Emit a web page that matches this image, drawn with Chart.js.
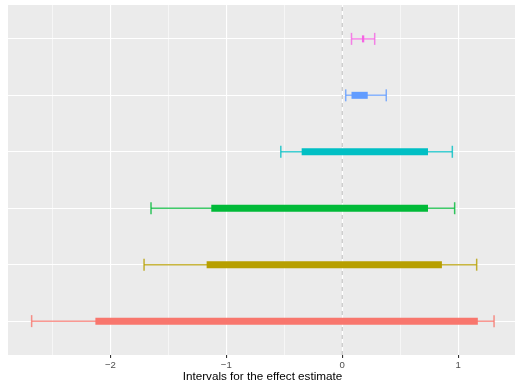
<!DOCTYPE html>
<html>
<head>
<meta charset="utf-8">
<script src="https://cdn.jsdelivr.net/npm/chart.js@4.4.1/dist/chart.umd.min.js"></script>
<style>
  html, body { margin: 0; padding: 0; background: #ffffff; overflow: hidden; }
  #wrap { width: 517px; height: 387px; }
</style>
</head>
<body>
<div id="wrap"><canvas id="c" width="517" height="387"></canvas></div>
<script>
// Rows from bottom (1) to top (6)
const rows = [1, 2, 3, 4, 5, 6];
const rowColors = ['#F8766D', '#B79F00', '#00BA38', '#00BFC4', '#619CFF', '#F564E3'];
// Outer interval (thin whisker with caps)
const outerLow  = [-2.68, -1.71, -1.65, -0.53, 0.03, 0.08];
const outerHigh = [ 1.31,  1.16,  0.97,  0.95, 0.38, 0.28];
// Inner interval (thick bar)
const innerLow  = [-2.13, -1.17, -1.13, -0.35, 0.08, 0.17];
const innerHigh = [ 1.17,  0.86,  0.74,  0.74, 0.22, 0.19];
// Axis
const xTickValues = [-2, -1, 0, 1];
const xTitle = 'Intervals for the effect estimate';
const refValue = 0;

function withAlpha(hex, a) {
  const n = parseInt(hex.slice(1), 16);
  return `rgba(${(n >> 16) & 255},${(n >> 8) & 255},${n & 255},${a})`;
}

const datasets = [];

// dashed reference line at zero
datasets.push({
  type: 'line',
  data: [{ x: refValue, y: 0.4 }, { x: refValue, y: 6.6 }],
  borderColor: '#BDBDBD',
  borderWidth: 1,
  borderDash: [4, 4],
  pointRadius: 0,
  order: 20
});

rows.forEach((r, i) => {
  // whisker with end caps
  datasets.push({
    type: 'line',
    data: [{ x: outerLow[i], y: r }, { x: outerHigh[i], y: r }],
    borderColor: withAlpha(rowColors[i], 0.75),
    borderWidth: 1.5,
    pointStyle: 'line',
    rotation: 90,
    pointRadius: 6,
    pointBorderWidth: 1.5,
    pointBorderColor: withAlpha(rowColors[i], 0.8),
    pointBackgroundColor: withAlpha(rowColors[i], 0.8),
    order: 10
  });
  // thick inner interval
  datasets.push({
    type: 'line',
    data: [{ x: innerLow[i], y: r }, { x: innerHigh[i], y: r }],
    borderColor: rowColors[i],
    borderWidth: 7,
    borderCapStyle: 'butt',
    pointRadius: 0,
    order: 1
  });
});

const panelBg = {
  id: 'panelBg',
  beforeDraw(chart) {
    const { ctx, chartArea: a } = chart;
    ctx.save();
    ctx.fillStyle = '#EBEBEB';
    ctx.fillRect(a.left, a.top, a.right - a.left, a.bottom - a.top);
    ctx.restore();
  }
};

new Chart(document.getElementById('c'), {
  type: 'line',
  data: { datasets },
  plugins: [panelBg],
  options: {
    responsive: false,
    animation: false,
    layout: { autoPadding: false, padding: { top: 5, left: 8, right: 0, bottom: 0 } },
    plugins: { legend: { display: false }, tooltip: { enabled: false } },
    scales: {
      x: {
        type: 'linear',
        min: -2.884,
        max: 1.508,
        afterFit(scale) { scale.height = 32; scale.paddingLeft = 0; scale.paddingRight = 0; },
        afterBuildTicks(scale) {
          const t = [];
          for (let v = -2.5; v <= 1.5 + 1e-9; v += 0.5) t.push({ value: v });
          scale.ticks = t;
        },
        border: { display: false },
        grid: {
          color: '#FFFFFF',
          lineWidth: ctx => (Math.abs(ctx.tick.value - Math.round(ctx.tick.value)) < 1e-9 ? 1.1 : 0.55),
          tickColor: ctx => (xTickValues.includes(ctx.tick.value) ? '#333333' : 'rgba(0,0,0,0)'),
          tickLength: 3,
          drawOnChartArea: true
        },
        ticks: {
          autoSkip: false,
          maxRotation: 0,
          padding: 2,
          color: '#4D4D4D',
          font: { family: '"Liberation Sans", Arial, sans-serif', size: 9.6 },
          callback: v => (xTickValues.includes(v) ? (v < 0 ? '\u2212' + Math.abs(v) : String(v)) : '')
        },
        title: {
          display: true,
          text: xTitle,
          color: '#000000',
          font: { family: '"Liberation Sans", Arial, sans-serif', size: 11.7 },
          padding: { top: 0, bottom: 3 }
        }
      },
      y: {
        type: 'linear',
        min: 0.4,
        max: 6.6,
        afterBuildTicks(scale) { scale.ticks = rows.map(v => ({ value: v })); },
        afterFit(scale) { scale.width = 0; },
        border: { display: false },
        grid: { color: '#FFFFFF', lineWidth: 1.1, drawTicks: false },
        ticks: { display: false }
      }
    }
  }
});
</script>
</body>
</html>
